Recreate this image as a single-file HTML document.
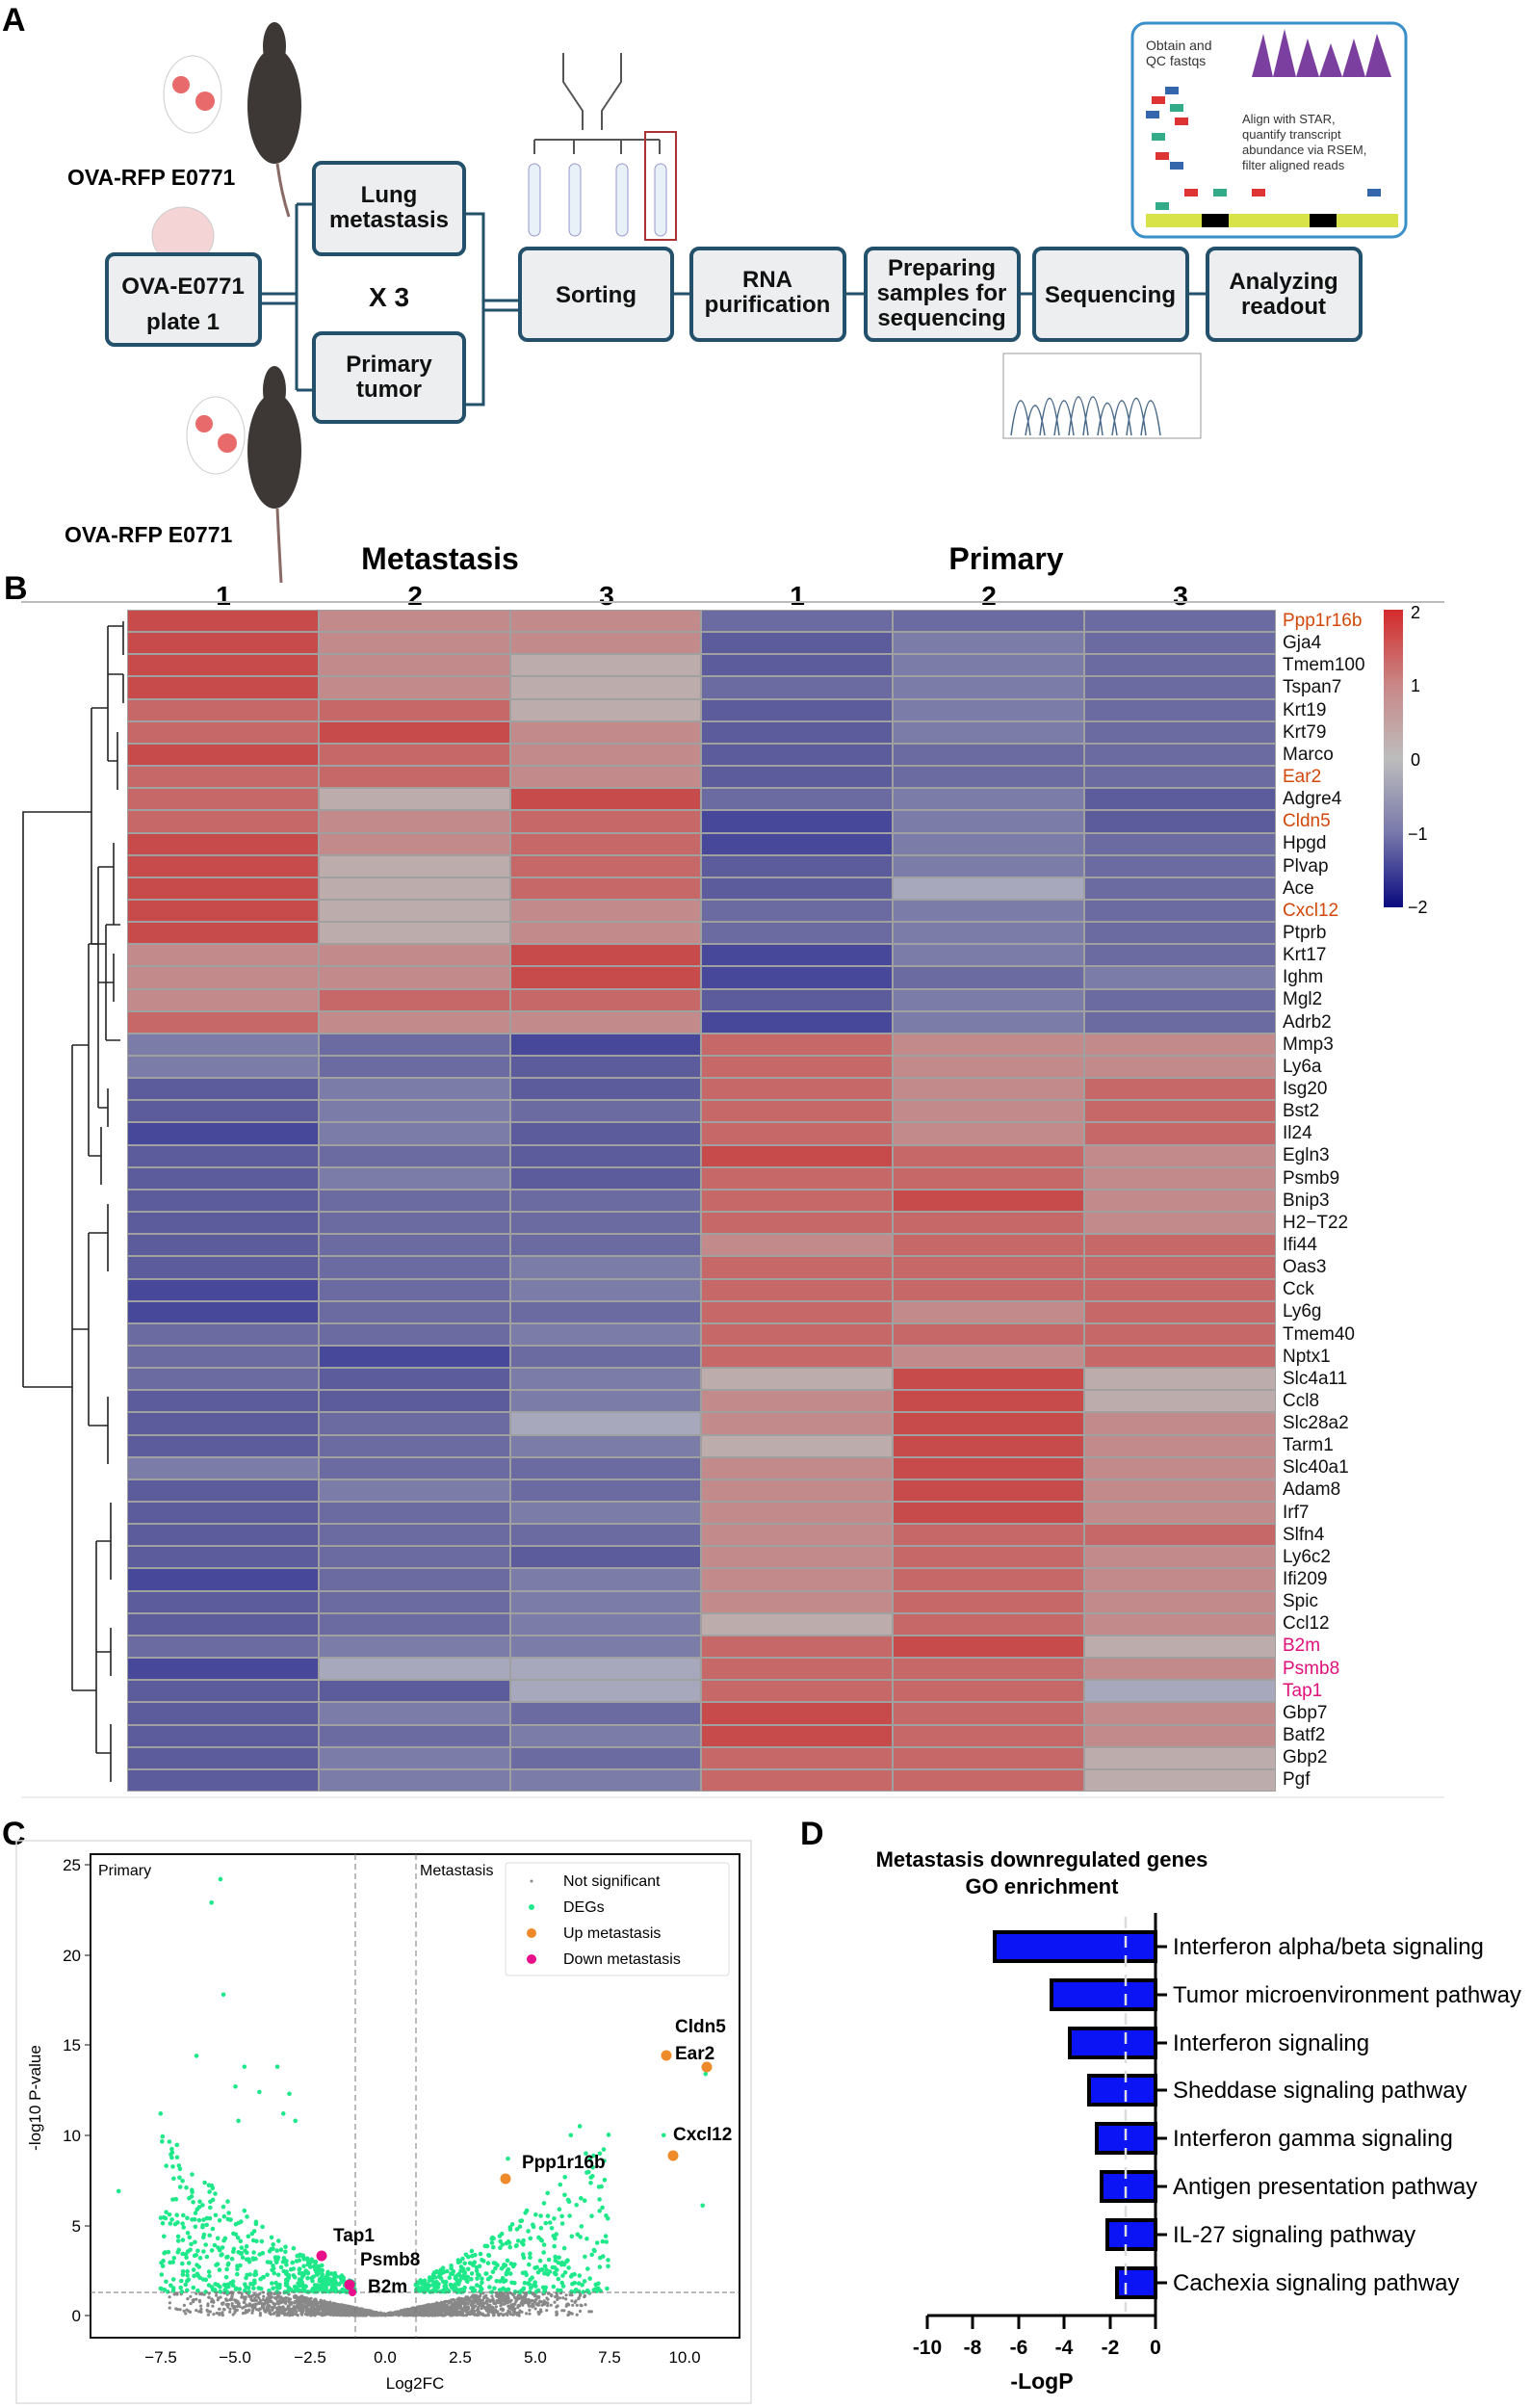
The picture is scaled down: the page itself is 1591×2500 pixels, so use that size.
<!DOCTYPE html>
<html><head><meta charset="utf-8">
<style>
body{margin:0;background:#fff;}
#wrap{position:relative;width:1591px;height:2500px;overflow:hidden;font-family:"Liberation Sans",sans-serif;}
svg{position:absolute;left:0;top:0;}
#hm{position:absolute;left:132px;top:633px;width:1193px;height:1227px;display:grid;grid-template-columns:repeat(6,1fr);grid-template-rows:repeat(53,1fr);gap:2px;background:#a0a0a0;padding:1px;box-sizing:border-box;}
#hm i{display:block}
.r3{background:#c84b4c}.r2{background:#c76868}.r1{background:#c28a8a}.n{background:#bcacac}.g{background:#a8a8bc}
.b1{background:#7c7ca8}.b2{background:#6b6ba2}.b3{background:#5c5c9d}.b4{background:#48489a}
#genes{position:absolute;left:1332px;top:633px;font-size:19px;line-height:23.15px;color:#111;}
#genes div{height:23.15px}
.o{color:#d2480a}.p{color:#e0107a}
</style></head><body><div id="wrap">
<svg width="1591" height="2500" xmlns="http://www.w3.org/2000/svg" font-family="Liberation Sans, sans-serif">
<!-- Panel A -->
<text x="2" y="32" font-size="34" font-weight="bold">A</text>
<g fill="#3d3836">
<ellipse cx="285" cy="110" rx="28" ry="60"/><ellipse cx="285" cy="48" rx="12" ry="25"/>
<ellipse cx="285" cy="468" rx="28" ry="60"/><ellipse cx="285" cy="405" rx="12" ry="25"/>
</g>
<path d="M288 170 Q292 200 300 225" stroke="#8a6a66" stroke-width="3" fill="none"/>
<path d="M288 528 Q290 570 292 605" stroke="#8a6a66" stroke-width="3" fill="none"/>
<ellipse cx="200" cy="98" rx="30" ry="40" fill="#fff" stroke="#ccc"/><circle cx="188" cy="88" r="9" fill="#e86a6a"/><circle cx="213" cy="105" r="10" fill="#e86a6a"/>
<ellipse cx="224" cy="452" rx="30" ry="40" fill="#fff" stroke="#ccc"/><circle cx="212" cy="440" r="9" fill="#e86a6a"/><circle cx="236" cy="460" r="10" fill="#e86a6a"/>
<ellipse cx="190" cy="245" rx="32" ry="30" fill="#f4d4d4" stroke="#ccc"/>
<text x="70" y="192" font-size="23" font-weight="bold">OVA-RFP E0771</text>
<text x="67" y="563" font-size="23" font-weight="bold">OVA-RFP E0771</text>
<g fill="#eceeef" stroke="#23506a" stroke-width="4">
<rect x="326" y="169" width="156" height="95" rx="8"/>
<rect x="111" y="264" width="159" height="94" rx="8"/>
<rect x="326" y="346" width="156" height="92" rx="8"/>
<rect x="540" y="258" width="158" height="95" rx="8"/>
<rect x="718" y="258" width="159" height="95" rx="8"/>
<rect x="899" y="258" width="159" height="95" rx="8"/>
<rect x="1074" y="258" width="159" height="95" rx="8"/>
<rect x="1254" y="258" width="159" height="95" rx="8"/>
</g>
<g stroke="#23506a" stroke-width="3" fill="none">
<path d="M270 305 H308 M270 315 H308 M308 212 V405 M308 212 H326 M308 405 H326 M482 222 H502 V420 H482 M502 312 H540 M502 322 H540"/>
<path d="M698 305 H718 M877 305 H899 M1058 305 H1074 M1233 305 H1254"/>
</g>
<g font-size="24" font-weight="bold" text-anchor="middle" fill="#111">
<text x="404" y="210">Lung</text><text x="404" y="236">metastasis</text>
<text x="190" y="305">OVA-E0771</text><text x="190" y="342">plate 1</text>
<text x="404" y="386">Primary</text><text x="404" y="412">tumor</text>
<text x="404" y="318" font-size="28">X 3</text>
<text x="619" y="314">Sorting</text>
<text x="797" y="298">RNA</text><text x="797" y="324">purification</text>
<text x="978" y="286">Preparing</text><text x="978" y="312">samples for</text><text x="978" y="338">sequencing</text>
<text x="1153" y="314">Sequencing</text>
<text x="1333" y="300">Analyzing</text><text x="1333" y="326">readout</text>
</g>
<path d="M585 55 L585 85 L605 115 V135 M645 55 L645 85 L625 115 V135" stroke="#555" stroke-width="2" fill="none"/>
<path d="M555 145 H685 M555 145 V160 M596 145 V160 M645 145 V160 M685 145 V160" stroke="#555" stroke-width="2" fill="none"/>
<g stroke="#99c" fill="#e8f0f8"><rect x="549" y="170" width="12" height="75" rx="6"/><rect x="591" y="170" width="12" height="75" rx="6"/><rect x="640" y="170" width="12" height="75" rx="6"/><rect x="680" y="170" width="12" height="75" rx="6"/></g>
<rect x="670" y="137" width="32" height="112" fill="none" stroke="#a33" stroke-width="2"/>
<rect x="1176" y="24" width="284" height="222" rx="14" fill="#fff" stroke="#3a8fc9" stroke-width="3"/>
<text x="1190" y="52" font-size="14" fill="#333">Obtain and</text><text x="1190" y="68" font-size="14" fill="#333">QC fastqs</text>
<text x="1290" y="128" font-size="13" fill="#333">Align with STAR,</text><text x="1290" y="144" font-size="13" fill="#333">quantify transcript</text><text x="1290" y="160" font-size="13" fill="#333">abundance via RSEM,</text><text x="1290" y="176" font-size="13" fill="#333">filter aligned reads</text>
<path d="M1300 80 L1312 35 L1322 80 L1334 30 L1346 80 L1358 40 L1370 80 L1382 45 L1394 80 L1406 40 L1418 80 L1430 35 L1445 80 Z" fill="#7b3fa0"/>
<rect x="1190" y="222" width="262" height="14" fill="#d8e34a"/>
<rect x="1248" y="222" width="28" height="14" fill="#000"/><rect x="1360" y="222" width="28" height="14" fill="#000"/>
<g fill="#d33"><rect x="1196" y="100" width="14" height="8"/><rect x="1220" y="122" width="14" height="8"/><rect x="1200" y="158" width="14" height="8"/><rect x="1230" y="196" width="14" height="8"/><rect x="1300" y="196" width="14" height="8"/></g>
<g fill="#3a8"><rect x="1215" y="108" width="14" height="8"/><rect x="1196" y="138" width="14" height="8"/><rect x="1260" y="196" width="14" height="8"/><rect x="1200" y="210" width="14" height="8"/></g>
<g fill="#36a"><rect x="1210" y="90" width="14" height="8"/><rect x="1190" y="115" width="14" height="8"/><rect x="1215" y="168" width="14" height="8"/><rect x="1420" y="196" width="14" height="8"/></g>
<rect x="1042" y="367" width="205" height="88" fill="#fff" stroke="#999"/>
<path d="M1050 452 Q1060 380 1070 452 M1065 452 Q1075 390 1085 452 M1080 452 Q1090 375 1100 452 M1095 452 Q1105 380 1115 452 M1110 452 Q1120 372 1130 452 M1125 452 Q1135 372 1145 452 M1140 452 Q1150 385 1160 452 M1155 452 Q1165 380 1175 452 M1170 452 Q1180 375 1190 452 M1185 452 Q1195 380 1205 452" stroke="#4a6a8a" fill="none" stroke-width="1.5"/>

<!-- Panel B -->
<text x="4" y="622" font-size="34" font-weight="bold">B</text>
<text x="457" y="591" font-size="32" font-weight="bold" text-anchor="middle">Metastasis</text>
<text x="1045" y="591" font-size="32" font-weight="bold" text-anchor="middle">Primary</text>
<g font-size="28" font-weight="bold" text-anchor="middle">
<text x="232" y="628">1</text><text x="431" y="628">2</text><text x="630" y="628">3</text><text x="828" y="628">1</text><text x="1027" y="628">2</text><text x="1226" y="628">3</text></g>
<line x1="22" y1="625" x2="1500" y2="625" stroke="#bbb" stroke-width="2"/>
<g stroke="#222" stroke-width="1.6" fill="none">
<path d="M24 1440 V843 H95 M24 1440 H75"/>
<path d="M95 735 V980 M95 735 H112 M95 980 H102"/>
<path d="M112 650 V790 M112 650 H128 M112 790 H122 M128 645 V680 M122 760 V820 M128 700 V730 M112 700 H128"/>
<path d="M102 900 V1150 M102 900 H118 M102 1150 H112 M118 875 V960 M112 1130 V1170 M118 990 V1040 M102 1020 H118"/>
<path d="M75 1085 V1755 M75 1085 H92 M75 1755 H100"/>
<path d="M92 980 V1200 M92 980 H110 M92 1200 H105 M110 960 V1080 M105 1170 V1230 M110 960 H125 M110 1080 H125"/>
<path d="M100 1600 V1820 M100 1600 H115 M100 1820 H115 M115 1560 V1640 M115 1790 V1850 M115 1690 V1740 M100 1715 H115"/>
<path d="M92 1280 V1480 M75 1380 H92 M92 1280 H112 M92 1480 H112 M112 1250 V1320 M112 1450 V1520"/>
</g>
<defs><linearGradient id="cb" x1="0" y1="0" x2="0" y2="1"><stop offset="0" stop-color="#d42a2a"/><stop offset="0.25" stop-color="#c98686"/><stop offset="0.5" stop-color="#bdbdbd"/><stop offset="0.75" stop-color="#7878ab"/><stop offset="1" stop-color="#0a0a80"/></linearGradient></defs>
<rect x="1437" y="633" width="20" height="309" fill="url(#cb)"/>
<g font-size="18"><text x="1465" y="642">2</text><text x="1465" y="718">1</text><text x="1465" y="795">0</text><text x="1462" y="872">−1</text><text x="1462" y="948">−2</text></g>
<line x1="22" y1="1866" x2="1500" y2="1866" stroke="#eee" stroke-width="2"/>

<!-- Panel C -->
<text x="2" y="1915" font-size="34" font-weight="bold">C</text>
<rect x="17" y="1911" width="763" height="584" fill="none" stroke="#ddd" stroke-width="1.5"/>
<g id="sc"></g>
<rect x="94" y="1925" width="674" height="502" fill="none" stroke="#111" stroke-width="2"/>
<line x1="369" y1="1925" x2="369" y2="2427" stroke="#777" stroke-dasharray="6,4"/>
<line x1="432" y1="1925" x2="432" y2="2427" stroke="#777" stroke-dasharray="6,4"/>
<line x1="94" y1="2380" x2="768" y2="2380" stroke="#777" stroke-dasharray="5,3"/>
<g font-size="17" text-anchor="end"><text x="84" y="1942">25</text><text x="84" y="2036">20</text><text x="84" y="2129">15</text><text x="84" y="2223">10</text><text x="84" y="2317">5</text><text x="84" y="2410">0</text></g>
<g stroke="#111"><line x1="88" y1="1936" x2="94" y2="1936"/><line x1="88" y1="2030" x2="94" y2="2030"/><line x1="88" y1="2123" x2="94" y2="2123"/><line x1="88" y1="2217" x2="94" y2="2217"/><line x1="88" y1="2311" x2="94" y2="2311"/><line x1="88" y1="2404" x2="94" y2="2404"/></g>
<g font-size="17" text-anchor="middle"><text x="167" y="2453">−7.5</text><text x="244" y="2453">−5.0</text><text x="322" y="2453">−2.5</text><text x="400" y="2453">0.0</text><text x="478" y="2453">2.5</text><text x="556" y="2453">5.0</text><text x="633" y="2453">7.5</text><text x="711" y="2453">10.0</text></g>
<text x="431" y="2480" font-size="17" text-anchor="middle">Log2FC</text>
<text x="42" y="2178" font-size="17" text-anchor="middle" transform="rotate(-90 42 2178)">-log10 P-value</text>
<text x="102" y="1947" font-size="16">Primary</text>
<text x="436" y="1947" font-size="16">Metastasis</text>
<rect x="525" y="1934" width="232" height="117" fill="#fff" stroke="#ddd" rx="3"/>
<circle cx="552" cy="1953" r="1.5" fill="#888"/><circle cx="552" cy="1980" r="3" fill="#1fe88a"/><circle cx="552" cy="2007" r="5" fill="#ee8a2a"/><circle cx="552" cy="2034" r="5" fill="#e8108a"/>
<g font-size="16"><text x="585" y="1958">Not significant</text><text x="585" y="1985">DEGs</text><text x="585" y="2012">Up metastasis</text><text x="585" y="2039">Down metastasis</text></g>
<g fill="#ee8a2a"><circle cx="692" cy="2134" r="5.5"/><circle cx="734" cy="2146" r="5.5"/><circle cx="699" cy="2238" r="5.5"/><circle cx="525" cy="2262" r="5.5"/></g>
<g fill="#e8108a"><circle cx="334" cy="2342" r="5.5"/><circle cx="363" cy="2372" r="5.5"/><circle cx="366" cy="2380" r="4"/></g>
<g font-size="19" font-weight="bold"><text x="701" y="2110">Cldn5</text><text x="701" y="2138">Ear2</text><text x="699" y="2222">Cxcl12</text><text x="542" y="2251">Ppp1r16b</text><text x="346" y="2327">Tap1</text><text x="374" y="2352">Psmb8</text><text x="382" y="2380">B2m</text></g>

<!-- Panel D -->
<text x="831" y="1915" font-size="34" font-weight="bold">D</text>
<text x="1082" y="1938" font-size="22" font-weight="bold" text-anchor="middle">Metastasis downregulated genes</text>
<text x="1082" y="1966" font-size="22" font-weight="bold" text-anchor="middle">GO enrichment</text>
<g fill="#0a14f5" stroke="#000" stroke-width="4">
<rect x="1033" y="2006" width="167" height="30"/><rect x="1092" y="2056" width="108" height="30"/><rect x="1111" y="2106" width="89" height="30"/><rect x="1131" y="2155" width="69" height="30"/><rect x="1139" y="2205" width="61" height="30"/><rect x="1144" y="2255" width="56" height="30"/><rect x="1150" y="2305" width="50" height="30"/><rect x="1160" y="2355" width="40" height="30"/></g>
<line x1="1169" y1="1990" x2="1169" y2="2400" stroke="#ddd" stroke-width="2.5" stroke-dasharray="12,8"/>
<g stroke="#000" stroke-width="3"><line x1="1200" y1="1986" x2="1200" y2="2406"/><line x1="963" y1="2404" x2="1201" y2="2404"/>
<line x1="963" y1="2404" x2="963" y2="2418"/><line x1="1010" y1="2404" x2="1010" y2="2418"/><line x1="1058" y1="2404" x2="1058" y2="2418"/><line x1="1105" y1="2404" x2="1105" y2="2418"/><line x1="1153" y1="2404" x2="1153" y2="2418"/><line x1="1200" y1="2404" x2="1200" y2="2418"/>
<path d="M1200 2021 h12 M1200 2071 h12 M1200 2121 h12 M1200 2170 h12 M1200 2220 h12 M1200 2270 h12 M1200 2320 h12 M1200 2370 h12"/></g>
<g font-size="21" font-weight="bold" text-anchor="middle"><text x="963" y="2444">-10</text><text x="1010" y="2444">-8</text><text x="1058" y="2444">-6</text><text x="1105" y="2444">-4</text><text x="1153" y="2444">-2</text><text x="1200" y="2444">0</text></g>
<text x="1082" y="2480" font-size="23" font-weight="bold" text-anchor="middle">-LogP</text>
<g font-size="24"><text x="1218" y="2029">Interferon alpha/beta signaling</text><text x="1218" y="2079">Tumor microenvironment pathway</text><text x="1218" y="2129">Interferon signaling</text><text x="1218" y="2178">Sheddase signaling pathway</text><text x="1218" y="2228">Interferon gamma signaling</text><text x="1218" y="2278">Antigen presentation pathway</text><text x="1218" y="2328">IL-27 signaling pathway</text><text x="1218" y="2378">Cachexia signaling pathway</text></g>
</svg>

<div id="hm">
<i class="r3"></i><i class="r1"></i><i class="r1"></i><i class="b2"></i><i class="b2"></i><i class="b2"></i>
<i class="r3"></i><i class="r1"></i><i class="r1"></i><i class="b3"></i><i class="b1"></i><i class="b2"></i>
<i class="r3"></i><i class="r1"></i><i class="n"></i><i class="b3"></i><i class="b1"></i><i class="b2"></i>
<i class="r3"></i><i class="r1"></i><i class="n"></i><i class="b2"></i><i class="b1"></i><i class="b2"></i>
<i class="r2"></i><i class="r2"></i><i class="n"></i><i class="b3"></i><i class="b1"></i><i class="b2"></i>
<i class="r2"></i><i class="r3"></i><i class="r1"></i><i class="b3"></i><i class="b1"></i><i class="b2"></i>
<i class="r3"></i><i class="r2"></i><i class="r1"></i><i class="b3"></i><i class="b2"></i><i class="b2"></i>
<i class="r2"></i><i class="r2"></i><i class="r1"></i><i class="b3"></i><i class="b2"></i><i class="b2"></i>
<i class="r2"></i><i class="n"></i><i class="r3"></i><i class="b2"></i><i class="b1"></i><i class="b3"></i>
<i class="r2"></i><i class="r1"></i><i class="r2"></i><i class="b4"></i><i class="b1"></i><i class="b3"></i>
<i class="r3"></i><i class="r1"></i><i class="r2"></i><i class="b4"></i><i class="b1"></i><i class="b2"></i>
<i class="r3"></i><i class="n"></i><i class="r2"></i><i class="b3"></i><i class="b1"></i><i class="b2"></i>
<i class="r3"></i><i class="n"></i><i class="r2"></i><i class="b3"></i><i class="g"></i><i class="b2"></i>
<i class="r3"></i><i class="n"></i><i class="r1"></i><i class="b2"></i><i class="b1"></i><i class="b2"></i>
<i class="r3"></i><i class="n"></i><i class="r1"></i><i class="b2"></i><i class="b1"></i><i class="b2"></i>
<i class="r1"></i><i class="r1"></i><i class="r3"></i><i class="b4"></i><i class="b1"></i><i class="b2"></i>
<i class="r1"></i><i class="r1"></i><i class="r3"></i><i class="b4"></i><i class="b2"></i><i class="b1"></i>
<i class="r1"></i><i class="r2"></i><i class="r2"></i><i class="b3"></i><i class="b1"></i><i class="b2"></i>
<i class="r2"></i><i class="r1"></i><i class="r1"></i><i class="b4"></i><i class="b1"></i><i class="b2"></i>
<i class="b1"></i><i class="b2"></i><i class="b4"></i><i class="r2"></i><i class="r1"></i><i class="r1"></i>
<i class="b1"></i><i class="b2"></i><i class="b3"></i><i class="r2"></i><i class="r1"></i><i class="r1"></i>
<i class="b3"></i><i class="b1"></i><i class="b3"></i><i class="r2"></i><i class="r1"></i><i class="r2"></i>
<i class="b3"></i><i class="b1"></i><i class="b2"></i><i class="r2"></i><i class="r1"></i><i class="r2"></i>
<i class="b4"></i><i class="b1"></i><i class="b3"></i><i class="r2"></i><i class="r1"></i><i class="r2"></i>
<i class="b3"></i><i class="b2"></i><i class="b3"></i><i class="r3"></i><i class="r2"></i><i class="r1"></i>
<i class="b3"></i><i class="b1"></i><i class="b3"></i><i class="r2"></i><i class="r2"></i><i class="r1"></i>
<i class="b3"></i><i class="b2"></i><i class="b2"></i><i class="r2"></i><i class="r3"></i><i class="r1"></i>
<i class="b3"></i><i class="b2"></i><i class="b2"></i><i class="r2"></i><i class="r2"></i><i class="r1"></i>
<i class="b3"></i><i class="b2"></i><i class="b2"></i><i class="r1"></i><i class="r2"></i><i class="r2"></i>
<i class="b3"></i><i class="b2"></i><i class="b1"></i><i class="r2"></i><i class="r2"></i><i class="r2"></i>
<i class="b4"></i><i class="b2"></i><i class="b1"></i><i class="r2"></i><i class="r2"></i><i class="r2"></i>
<i class="b4"></i><i class="b2"></i><i class="b2"></i><i class="r2"></i><i class="r1"></i><i class="r2"></i>
<i class="b2"></i><i class="b2"></i><i class="b1"></i><i class="r2"></i><i class="r2"></i><i class="r2"></i>
<i class="b2"></i><i class="b4"></i><i class="b2"></i><i class="r2"></i><i class="r1"></i><i class="r2"></i>
<i class="b2"></i><i class="b3"></i><i class="b1"></i><i class="n"></i><i class="r3"></i><i class="n"></i>
<i class="b3"></i><i class="b3"></i><i class="b1"></i><i class="r1"></i><i class="r3"></i><i class="n"></i>
<i class="b3"></i><i class="b2"></i><i class="g"></i><i class="r1"></i><i class="r3"></i><i class="r1"></i>
<i class="b3"></i><i class="b2"></i><i class="b1"></i><i class="n"></i><i class="r3"></i><i class="r1"></i>
<i class="b1"></i><i class="b2"></i><i class="b2"></i><i class="r1"></i><i class="r3"></i><i class="r1"></i>
<i class="b3"></i><i class="b1"></i><i class="b2"></i><i class="r1"></i><i class="r3"></i><i class="r1"></i>
<i class="b3"></i><i class="b2"></i><i class="b1"></i><i class="r1"></i><i class="r3"></i><i class="r1"></i>
<i class="b3"></i><i class="b2"></i><i class="b2"></i><i class="r1"></i><i class="r2"></i><i class="r2"></i>
<i class="b3"></i><i class="b2"></i><i class="b3"></i><i class="r1"></i><i class="r2"></i><i class="r1"></i>
<i class="b4"></i><i class="b2"></i><i class="b1"></i><i class="r1"></i><i class="r2"></i><i class="r1"></i>
<i class="b3"></i><i class="b2"></i><i class="b1"></i><i class="r1"></i><i class="r2"></i><i class="r1"></i>
<i class="b3"></i><i class="b2"></i><i class="b1"></i><i class="n"></i><i class="r2"></i><i class="r1"></i>
<i class="b2"></i><i class="b1"></i><i class="b1"></i><i class="r2"></i><i class="r3"></i><i class="n"></i>
<i class="b4"></i><i class="g"></i><i class="g"></i><i class="r2"></i><i class="r2"></i><i class="r1"></i>
<i class="b3"></i><i class="b3"></i><i class="g"></i><i class="r2"></i><i class="r2"></i><i class="g"></i>
<i class="b3"></i><i class="b1"></i><i class="b2"></i><i class="r3"></i><i class="r2"></i><i class="r1"></i>
<i class="b3"></i><i class="b2"></i><i class="b1"></i><i class="r3"></i><i class="r2"></i><i class="r1"></i>
<i class="b3"></i><i class="b1"></i><i class="b2"></i><i class="r2"></i><i class="r2"></i><i class="n"></i>
<i class="b3"></i><i class="b1"></i><i class="b1"></i><i class="r2"></i><i class="r2"></i><i class="n"></i>
</div>
<div id="genes">
<div class="o">Ppp1r16b</div><div>Gja4</div><div>Tmem100</div><div>Tspan7</div><div>Krt19</div><div>Krt79</div><div>Marco</div><div class="o">Ear2</div><div>Adgre4</div><div class="o">Cldn5</div><div>Hpgd</div><div>Plvap</div><div>Ace</div><div class="o">Cxcl12</div><div>Ptprb</div><div>Krt17</div><div>Ighm</div><div>Mgl2</div><div>Adrb2</div>
<div>Mmp3</div><div>Ly6a</div><div>Isg20</div><div>Bst2</div><div>Il24</div><div>Egln3</div><div>Psmb9</div><div>Bnip3</div><div>H2−T22</div><div>Ifi44</div><div>Oas3</div><div>Cck</div><div>Ly6g</div><div>Tmem40</div><div>Nptx1</div><div>Slc4a11</div><div>Ccl8</div><div>Slc28a2</div><div>Tarm1</div><div>Slc40a1</div><div>Adam8</div><div>Irf7</div><div>Slfn4</div><div>Ly6c2</div><div>Ifi209</div><div>Spic</div><div>Ccl12</div>
<div class="p">B2m</div><div class="p">Psmb8</div><div class="p">Tap1</div><div>Gbp7</div><div>Batf2</div><div>Gbp2</div><div>Pgf</div>
</div>
</div>
<script>
(function(){
var s=7,g=document.getElementById('sc'),h='';
function r(){s=(s*16807)%2147483647;return s/2147483647;}
function px(x){return 400+x*31.1;} function py(y){return 2404-y*18.72;}
for(var i=0;i<2800;i++){var x=(r()-0.5)*2*(1+r()*6.5);var ax=Math.abs(x);if(ax<0.6&&r()<0.7)continue;var y=r()*Math.min(1.3,0.1+ax*0.35);
h+='<circle cx="'+px(x).toFixed(1)+'" cy="'+py(y).toFixed(1)+'" r="1.6" fill="#888"/>';}
for(var i=0;i<900;i++){var sgn=r()<0.55?-1:1;var x=sgn*(1+Math.pow(r(),1.1)*6.5);var ax=Math.abs(x);var y=1.3+Math.pow(r(),1.4)*(ax*ax*0.1+ax*0.5);if(y>13)y=12*r()+1.3;
h+='<circle cx="'+px(x).toFixed(1)+'" cy="'+py(y).toFixed(1)+'" r="2.3" fill="#1fe88a"/>';}
var extra=[[-5.5,24.2],[-5.8,22.9],[-5.4,17.8],[-6.3,14.4],[-4.7,13.8],[-3.6,13.8],[-5,12.7],[-4.2,12.4],[-3.2,12.3],[-7.5,11.2],[-4.9,10.8],[-3,10.8],[-3.4,11.2],[-8.9,6.9],[-7.2,5.6],[6.5,10.5],[6.2,10],[9.3,10],[10.7,13.4],[10.6,6.1],[4.1,8.7]];
extra.forEach(function(p){h+='<circle cx="'+px(p[0])+'" cy="'+py(p[1])+'" r="2.3" fill="#1fe88a"/>';});
g.innerHTML=h;
})();
</script>
</body></html>
